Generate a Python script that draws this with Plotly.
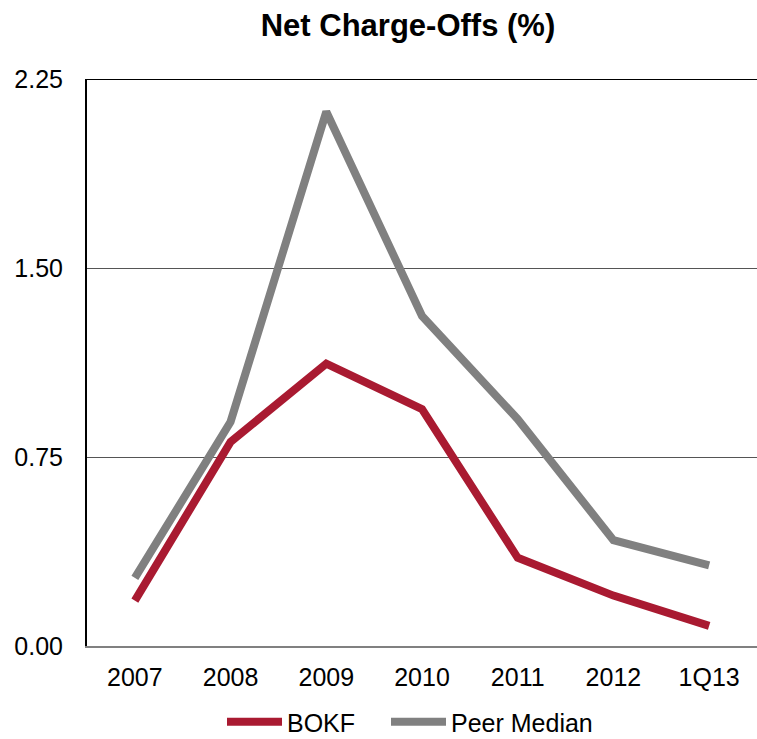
import plotly.graph_objects as go

categories = ["2007", "2008", "2009", "2010", "2011", "2012", "1Q13"]
bokf = [0.18, 0.81, 1.12, 0.94, 0.35, 0.20, 0.08]
peer_median = [0.27, 0.89, 2.12, 1.31, 0.90, 0.42, 0.32]
y_ticks = [0.0, 0.75, 1.50, 2.25]
y_tick_labels = ["0.00", "0.75", "1.50", "2.25"]

fig = go.Figure()
fig.add_trace(go.Scatter(x=categories, y=bokf, mode="lines", name="BOKF",
                         line=dict(color="#A91A31", width=8), legend="legend"))
fig.add_trace(go.Scatter(x=categories, y=peer_median, mode="lines", name="Peer Median",
                         line=dict(color="#808080", width=8), legend="legend2"))

legend_common = dict(orientation="h", xref="container", xanchor="left",
                     yref="container", y=(739 - 722) / 739, yanchor="middle",
                     font=dict(size=25), itemwidth=55)

fig.update_layout(
    width=757, height=739,
    margin=dict(l=87, r=0, t=79, b=93, autoexpand=False),
    paper_bgcolor="white", plot_bgcolor="white",
    font=dict(family="Liberation Sans, Arial, sans-serif", size=25, color="black"),
    title=dict(text="<b>Net Charge-Offs (%)</b>", x=408 / 757, xref="container", xanchor="center",
               y=1 - 25 / 739, yanchor="middle", font=dict(size=31)),
    showlegend=True,
    legend=dict(x=222 / 757, **legend_common),
    legend2=dict(x=386 / 757, **legend_common),
    xaxis=dict(type="category", showgrid=False, showline=True, linecolor="#808080",
               linewidth=2, ticks="", tickfont=dict(size=25), range=[-0.5, 6.5],
               ticklabelstandoff=8),
    yaxis=dict(range=[0, 2.25], tickvals=y_ticks, ticktext=y_tick_labels,
               showgrid=True, gridcolor="#555555", gridwidth=1, zeroline=False,
               showline=True, linecolor="black", linewidth=2, ticks="",
               tickfont=dict(size=25), ticklabelstandoff=17),
)
fig.add_shape(type="line", xref="paper", yref="y", x0=0, x1=1, y0=2.25, y1=2.25,
              line=dict(color="black", width=2))

fig.write_html("out.html", config={"displayModeBar": False},
               post_script="document.body.style.margin='0';document.body.style.overflow='hidden';")
